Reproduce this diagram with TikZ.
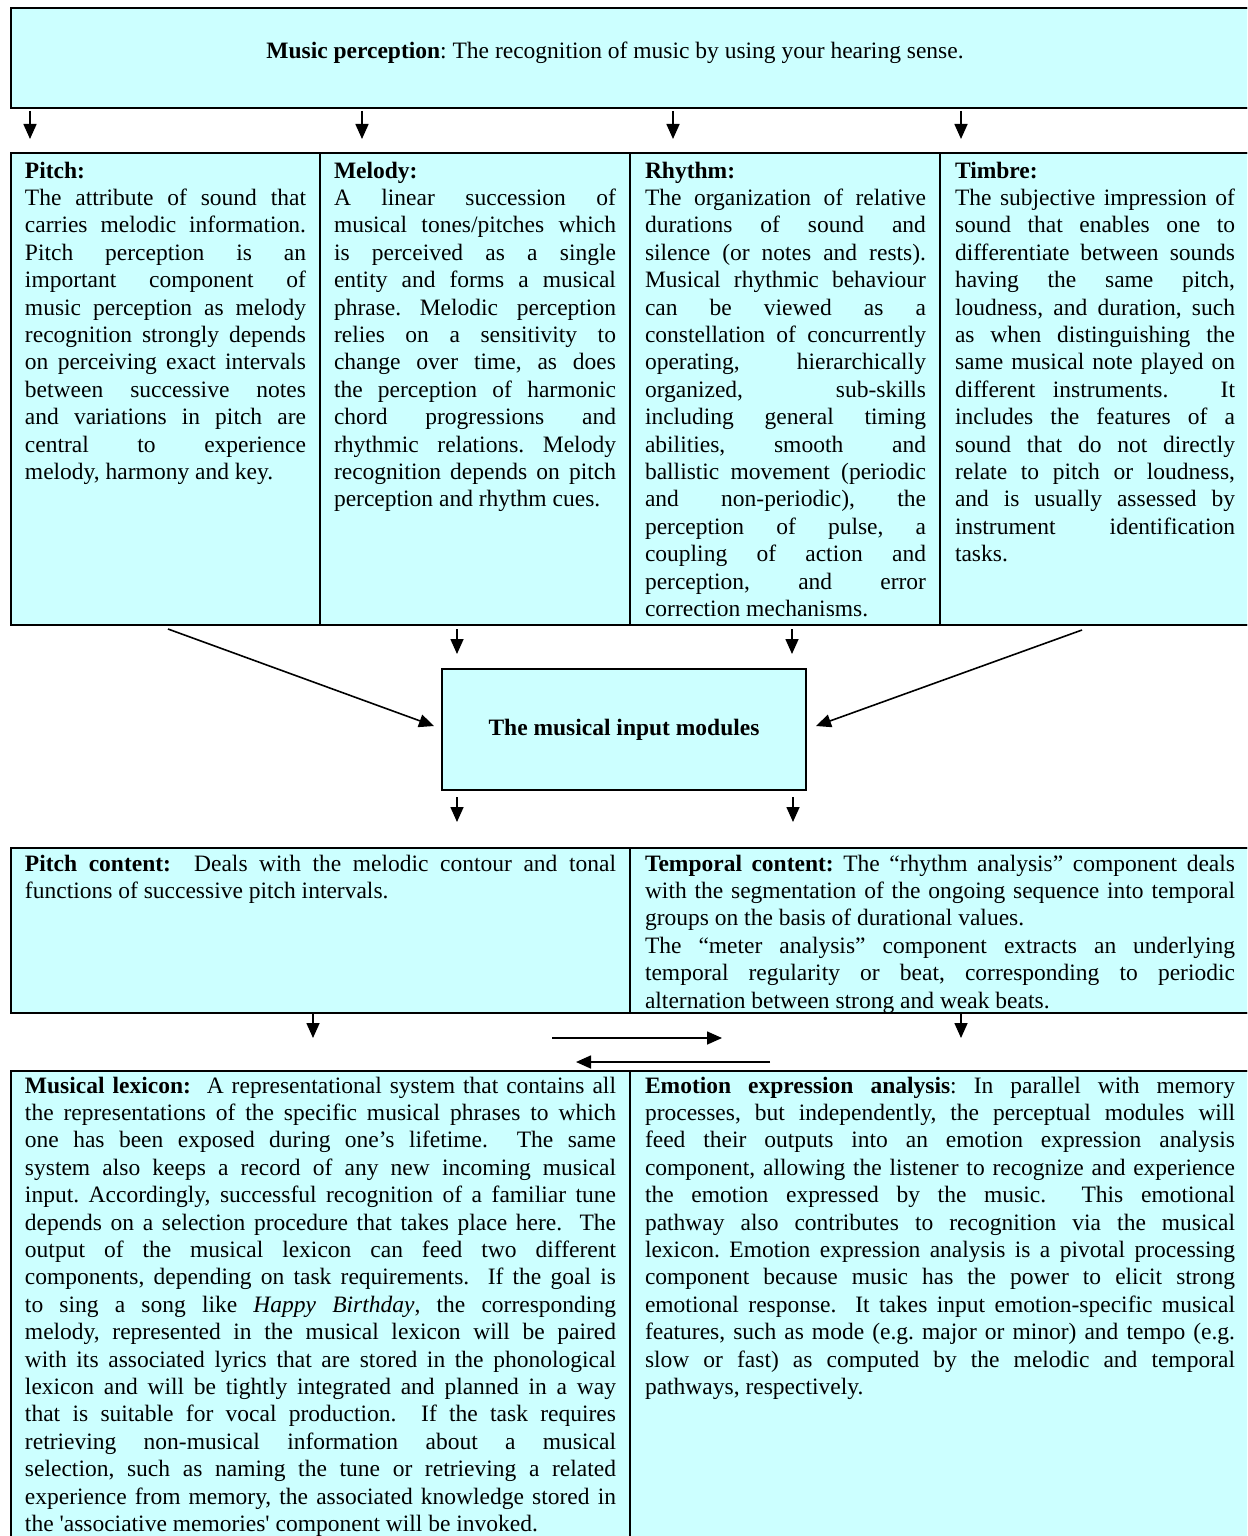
\documentclass[tikz,border=0pt]{standalone}
\usepackage{fontspec}
\setmainfont{Liberation Serif}
\usetikzlibrary{arrows.meta}
\newlength\px \setlength\px{0.5pt}
\definecolor{cellfill}{RGB}{204,255,255}
\hyphenpenalty=10000
\exhyphenpenalty=10000
\tolerance=10000
\frenchspacing
\newcommand\bodyfont{\fontsize{11.75pt}{13.7pt}\selectfont}
\tikzset{
  x=0.5pt, y=-0.5pt,
  cell/.style={draw=black, line width=0.7pt, fill=cellfill, rectangle, anchor=north west, inner sep=0pt, outer sep=0pt},
  frame/.style={draw=black, line width=1.1pt},
  txt/.style={font=\bodyfont},
  body/.style={txt, anchor=base west, inner sep=0pt, outer sep=0pt, align=justify},
  arr/.style={line width=0.8pt, -{Triangle[length=7.5pt,width=6.5pt]}},
}
\begin{document}
\begin{tikzpicture}
\path[use as bounding box] (0,0) rectangle (1247,1536);
\fill[white] (0,0) rectangle (1247,1536);
\clip (0,0) rectangle (1247,1536);

% ---------- top box
\node[cell, minimum width=1239\px, minimum height=100\px] (mp) at (11,8) {};
\draw[frame] (mp.north west) rectangle (mp.south east);
\node[txt, anchor=base, inner sep=0pt] (mptxt) at (615,59) {\textbf{Music perception}:\ The recognition of music by using your hearing sense.};

% ---------- row 2
\node[cell, minimum width=309\px, minimum height=472\px] (pitch) at (11,153) {};
\node[cell, minimum width=310\px, minimum height=472\px] (melody) at (320,153) {};
\node[cell, minimum width=310\px, minimum height=472\px] (rhythm) at (630,153) {};
\node[cell, minimum width=310\px, minimum height=472\px] (timbre) at (940,153) {};
\draw[frame] (pitch.north west) rectangle (timbre.south east);

\node[body, text width=281\px] (pitchtxt) at (25,178) {\textbf{Pitch:}\par
The attribute of sound that\linebreak
carries melodic information.\linebreak
Pitch perception is an\linebreak
important component of\linebreak
music perception as melody\linebreak
recognition strongly depends\linebreak
on perceiving exact intervals\linebreak
between successive notes\linebreak
and variations in pitch are\linebreak
central to experience\linebreak
melody, harmony and key.};

\node[body, text width=282\px] (melodytxt) at (334,178) {\textbf{Melody:}\par
A linear succession of\linebreak
musical tones/pitches which\linebreak
is perceived as a single\linebreak
entity and forms a musical\linebreak
phrase. Melodic perception\linebreak
relies on a sensitivity to\linebreak
change over time, as does\linebreak
the perception of harmonic\linebreak
chord progressions and\linebreak
rhythmic relations. Melody\linebreak
recognition depends on pitch\linebreak
perception and rhythm cues.};

\node[body, text width=281\px] (rhythmtxt) at (645,178) {\textbf{Rhythm:}\par
The organization of relative\linebreak
durations of sound and\linebreak
silence (or notes and rests).\linebreak
Musical rhythmic behaviour\linebreak
can be viewed as a\linebreak
constellation of concurrently\linebreak
operating, hierarchically\linebreak
organized, sub-skills\linebreak
including general timing\linebreak
abilities, smooth and\linebreak
ballistic movement (periodic\linebreak
and non-periodic), the\linebreak
perception of pulse, a\linebreak
coupling of action and\linebreak
perception, and error\linebreak
correction mechanisms.};

\node[body, text width=280\px] (timbretxt) at (955,178) {\textbf{Timbre:}\par
The subjective impression of\linebreak
sound that enables one to\linebreak
differentiate between sounds\linebreak
having the same pitch,\linebreak
loudness, and duration, such\linebreak
as when distinguishing the\linebreak
same musical note played on\linebreak
different instruments.\ \ \ It\linebreak
includes the features of a\linebreak
sound that do not directly\linebreak
relate to pitch or loudness,\linebreak
and is usually assessed by\linebreak
instrument identification\linebreak
tasks.};

% ---------- middle box
\node[cell, minimum width=364\px, minimum height=121\px, font=\bodyfont\bfseries] (modules) at (442,669) {The musical input modules};
\draw[frame] (modules.north west) rectangle (modules.south east);

% ---------- row 3
\node[cell, minimum width=619\px, minimum height=165\px] (pcont) at (11,848) {};
\node[cell, minimum width=620\px, minimum height=165\px] (tcont) at (630,848) {};
\draw[frame] (pcont.north west) rectangle (tcont.south east);

\node[body, text width=591\px] (pconttxt) at (25,871) {\textbf{Pitch content:}\ \ Deals with the melodic contour and tonal\linebreak
functions of successive pitch intervals.};

\node[body, text width=590\px] (tconttxt) at (645,871) {\textbf{Temporal content:} The “rhythm analysis” component deals\linebreak
with the segmentation of the ongoing sequence into temporal\linebreak
groups on the basis of durational values.\par
The “meter analysis” component extracts an underlying\linebreak
temporal regularity or beat, corresponding to periodic\linebreak
alternation between strong and weak beats.};

% ---------- row 4
\node[cell, minimum width=619\px, minimum height=500\px] (lexicon) at (11,1071) {};
\node[cell, minimum width=620\px, minimum height=500\px] (emotion) at (630,1071) {};
\draw[frame] (lexicon.north west) rectangle (emotion.south east);

\node[body, text width=591\px] (lexicontxt) at (25,1093) {\textbf{Musical lexicon:}\ \ A representational system that contains all\linebreak
the representations of the specific musical phrases to which\linebreak
one has been exposed during one’s lifetime.\ \ The same\linebreak
system also keeps a record of any new incoming musical\linebreak
input. Accordingly, successful recognition of a familiar tune\linebreak
depends on a selection procedure that takes place here.\ \ The\linebreak
output of the musical lexicon can feed two different\linebreak
components, depending on task requirements.\ \ If the goal is\linebreak
to sing a song like \textit{Happy Birthday}, the corresponding\linebreak
melody, represented in the musical lexicon will be paired\linebreak
with its associated lyrics that are stored in the phonological\linebreak
lexicon and will be tightly integrated and planned in a way\linebreak
that is suitable for vocal production.\ \ If the task requires\linebreak
retrieving non-musical information about a musical\linebreak
selection, such as naming the tune or retrieving a related\linebreak
experience from memory, the associated knowledge stored in\linebreak
the \textquotesingle{}associative memories\textquotesingle{} component will be invoked.};

\node[body, text width=590\px] (emotiontxt) at (645,1093) {\textbf{Emotion expression analysis}: In parallel with memory\linebreak
processes, but independently, the perceptual modules will\linebreak
feed their outputs into an emotion expression analysis\linebreak
component, allowing the listener to recognize and experience\linebreak
the emotion expressed by the music.\ \ This emotional\linebreak
pathway also contributes to recognition via the musical\linebreak
lexicon. Emotion expression analysis is a pivotal processing\linebreak
component because music has the power to elicit strong\linebreak
emotional response.\ \ It takes input emotion-specific musical\linebreak
features, such as mode (e.g. major or minor) and tempo (e.g.\linebreak
slow or fast) as computed by the melodic and temporal\linebreak
pathways, respectively.};

% ---------- connector end points
\coordinate (t1s) at (30,111);  \coordinate (t1e) at (30,139);
\coordinate (t2s) at (362,111); \coordinate (t2e) at (362,139);
\coordinate (t3s) at (673,111); \coordinate (t3e) at (673,139);
\coordinate (t4s) at (961,111); \coordinate (t4e) at (961,139);
\coordinate (dls) at (168,629); \coordinate (dle) at (434,726);
\coordinate (m1s) at (457,629); \coordinate (m1e) at (457,654);
\coordinate (m2s) at (792,629); \coordinate (m2e) at (792,654);
\coordinate (drs) at (1082,630); \coordinate (dre) at (816,726);
\coordinate (b1s) at (457,797); \coordinate (b1e) at (457,822);
\coordinate (b2s) at (793,797); \coordinate (b2e) at (793,822);
\coordinate (c1s) at (313,1014); \coordinate (c1e) at (313,1038);
\coordinate (c2s) at (961,1014); \coordinate (c2e) at (961,1038);
\coordinate (hrs) at (552,1038); \coordinate (hre) at (722,1038);
\coordinate (hls) at (770,1062); \coordinate (hle) at (576,1062);

% ---------- connectors
\draw[arr] (t1s) -- (t1e);
\draw[arr] (t2s) -- (t2e);
\draw[arr] (t3s) -- (t3e);
\draw[arr] (t4s) -- (t4e);
\draw[arr] (dls) -- (dle);
\draw[arr] (m1s) -- (m1e);
\draw[arr] (m2s) -- (m2e);
\draw[arr] (drs) -- (dre);
\draw[arr] (b1s) -- (b1e);
\draw[arr] (b2s) -- (b2e);
\draw[arr] (c1s) -- (c1e);
\draw[arr] (c2s) -- (c2e);
\draw[arr] (hrs) -- (hre);
\draw[arr] (hls) -- (hle);
\end{tikzpicture}
\end{document}
